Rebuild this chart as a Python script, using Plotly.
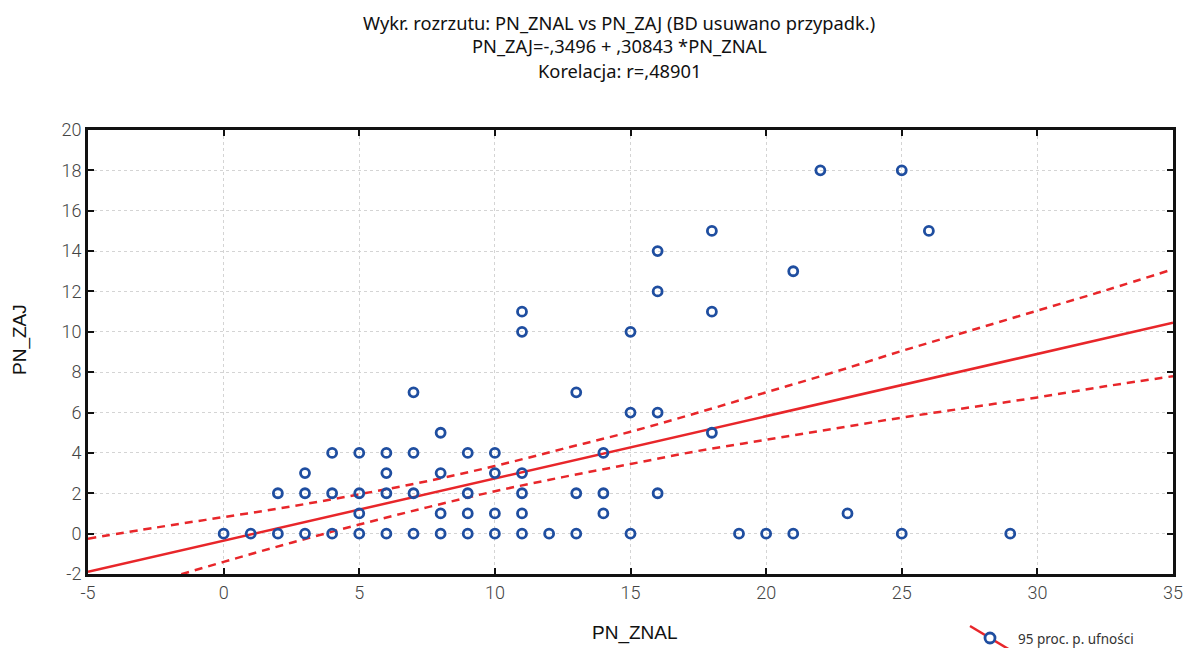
import plotly.graph_objects as go

# Observed points (PN_ZNAL, PN_ZAJ)
PN_ZNAL = [0, 1, 2, 2, 3, 3, 3, 4, 4, 4, 5, 5, 5, 5, 6, 6, 6, 6,
           7, 7, 7, 7, 8, 8, 8, 8, 9, 9, 9, 9, 10, 10, 10, 10,
           11, 11, 11, 11, 11, 11, 12, 13, 13, 13, 14, 14, 14,
           15, 15, 15, 16, 16, 16, 16, 18, 18, 18, 19, 20, 21, 21,
           22, 23, 25, 25, 26, 29]
PN_ZAJ = [0, 0, 0, 2, 0, 2, 3, 0, 2, 4, 0, 1, 2, 4, 0, 2, 3, 4,
          0, 2, 4, 7, 0, 1, 3, 5, 0, 1, 2, 4, 0, 1, 3, 4,
          0, 1, 2, 3, 10, 11, 0, 0, 2, 7, 1, 2, 4,
          0, 6, 10, 2, 6, 12, 14, 5, 11, 15, 0, 0, 0, 13,
          18, 1, 0, 18, 15, 0]

# Regression (from title)
REG_INTERCEPT = -0.3496
REG_SLOPE = 0.30843
REG_X = [-5, 35]

# 95% confidence band
BAND_X = [-5, -2.5, 0, 2.5, 5, 7.5, 10, 12.5, 15, 17.5, 20, 22.5, 25, 27.5, 30, 32.5, 35]
BAND_UPPER = [-0.25, 0.3, 0.82, 1.35, 1.95, 2.6, 3.35, 4.2, 5.05, 6.0, 7.0, 8.0, 9.05, 10.05, 11.05, 12.05, 13.1]
BAND_LOWER = [-3.5, -2.4, -1.4, -0.45, 0.45, 1.3, 2.1, 2.8, 3.45, 4.1, 4.65, 5.2, 5.75, 6.25, 6.75, 7.3, 7.8]

X_TICKS = [-5, 0, 5, 10, 15, 20, 25, 30, 35]
X_TICKTEXT = ["-5", "0", "5", "10", "15", "20", "25", "30", "35"]
Y_TICKS = [-2, 0, 2, 4, 6, 8, 10, 12, 14, 16, 18, 20]
Y_TICKTEXT = ["-2", "0", "2", "4", "6", "8", "10", "12", "14", "16", "18", "20"]

TITLE_LINES = ["Wykr. rozrzutu: PN_ZNAL vs PN_ZAJ (BD usuwano przypadk.)",
               "PN_ZAJ=-,3496 + ,30843 *PN_ZNAL",
               "Korelacja: r=,48901"]
X_TITLE = "PN_ZNAL"
Y_TITLE = "PN_ZAJ"
LEGEND_TEXT = "95 proc. p. ufności"

RED = "#e8262a"
BLUE = "#1f4ea0"

reg_y = [REG_INTERCEPT + REG_SLOPE * x for x in REG_X]

fig = go.Figure()
fig.add_trace(go.Scatter(x=BAND_X, y=BAND_UPPER, mode="lines",
                         line=dict(color=RED, width=2.5, dash="8px,6px", shape="spline"),
                         showlegend=False, hoverinfo="skip"))
fig.add_trace(go.Scatter(x=BAND_X, y=BAND_LOWER, mode="lines",
                         line=dict(color=RED, width=2.5, dash="8px,6px", shape="spline"),
                         showlegend=False, hoverinfo="skip"))
fig.add_trace(go.Scatter(x=REG_X, y=reg_y, mode="lines",
                         line=dict(color=RED, width=2.5),
                         showlegend=False, hoverinfo="skip"))
fig.add_trace(go.Scatter(x=PN_ZNAL, y=PN_ZAJ, mode="markers",
                         marker=dict(symbol="circle-open", size=9, color=BLUE,
                                     line=dict(width=2.8, color=BLUE)),
                         showlegend=False, cliponaxis=False))

L, R, T, B = 88, 12, 130, 74
W, H = 1185, 648
pw, ph = W - L - R, H - T - B

def px(xp):
    return (xp - L) / pw

def py(yp):
    return (H - B - yp) / ph

tick_font = dict(family="Roboto, sans-serif", size=18, color="#444444", weight=300)
axis_common = dict(ticks="inside", ticklen=6, tickwidth=2, tickcolor="#111",
                   showline=True, linewidth=3, linecolor="#111", mirror="ticks",
                   showgrid=True, gridcolor="#d4d4d4", griddash="dot", gridwidth=1,
                   zeroline=False, tickfont=tick_font, automargin=False)

annotations = []
for i, line in enumerate(TITLE_LINES):
    annotations.append(dict(text=line, xref="paper", yref="paper", x=px(619), y=py(22 + 24 * i),
                            xanchor="center", yanchor="middle", showarrow=False,
                            font=dict(family="Noto Sans, sans-serif", size=18.3, color="#111111")))
annotations.append(dict(text=X_TITLE, xref="paper", yref="paper", x=px(635), y=py(633),
                        xanchor="center", yanchor="middle", showarrow=False,
                        font=dict(family="Liberation Sans, Arial, sans-serif", size=19, color="#111")))
annotations.append(dict(text=Y_TITLE, xref="paper", yref="paper", x=px(20), y=py(340),
                        xanchor="center", yanchor="middle", showarrow=False, textangle=-90,
                        font=dict(family="Liberation Sans, Arial, sans-serif", size=19, color="#111")))
annotations.append(dict(text=LEGEND_TEXT, xref="paper", yref="paper", x=px(1016), y=py(639),
                        xanchor="left", yanchor="middle", showarrow=False,
                        font=dict(family="Noto Sans, sans-serif", size=13.5, color="#333")))

fig.update_layout(
    width=W, height=H,
    margin=dict(l=L, r=R, t=T, b=B, autoexpand=False),
    paper_bgcolor="white", plot_bgcolor="white",
    xaxis=dict(range=[-5, 35], tickvals=X_TICKS, ticktext=X_TICKTEXT, **axis_common),
    yaxis=dict(range=[-2, 20], tickvals=Y_TICKS, ticktext=Y_TICKTEXT, **axis_common),
    shapes=[
        dict(type="line", xref="paper", yref="paper",
             x0=px(970), y0=py(626), x1=px(1010), y1=py(650),
             line=dict(color=RED, width=2.5)),
        dict(type="circle", xref="paper", yref="paper",
             x0=px(985), y0=py(633), x1=px(995), y1=py(643),
             fillcolor="white", line=dict(color=BLUE, width=2.8)),
    ],
    annotations=annotations,
)

fig.write_html("out.html", config={"displayModeBar": False},
               post_script="document.body.style.margin='0';document.body.style.overflow='hidden';")
